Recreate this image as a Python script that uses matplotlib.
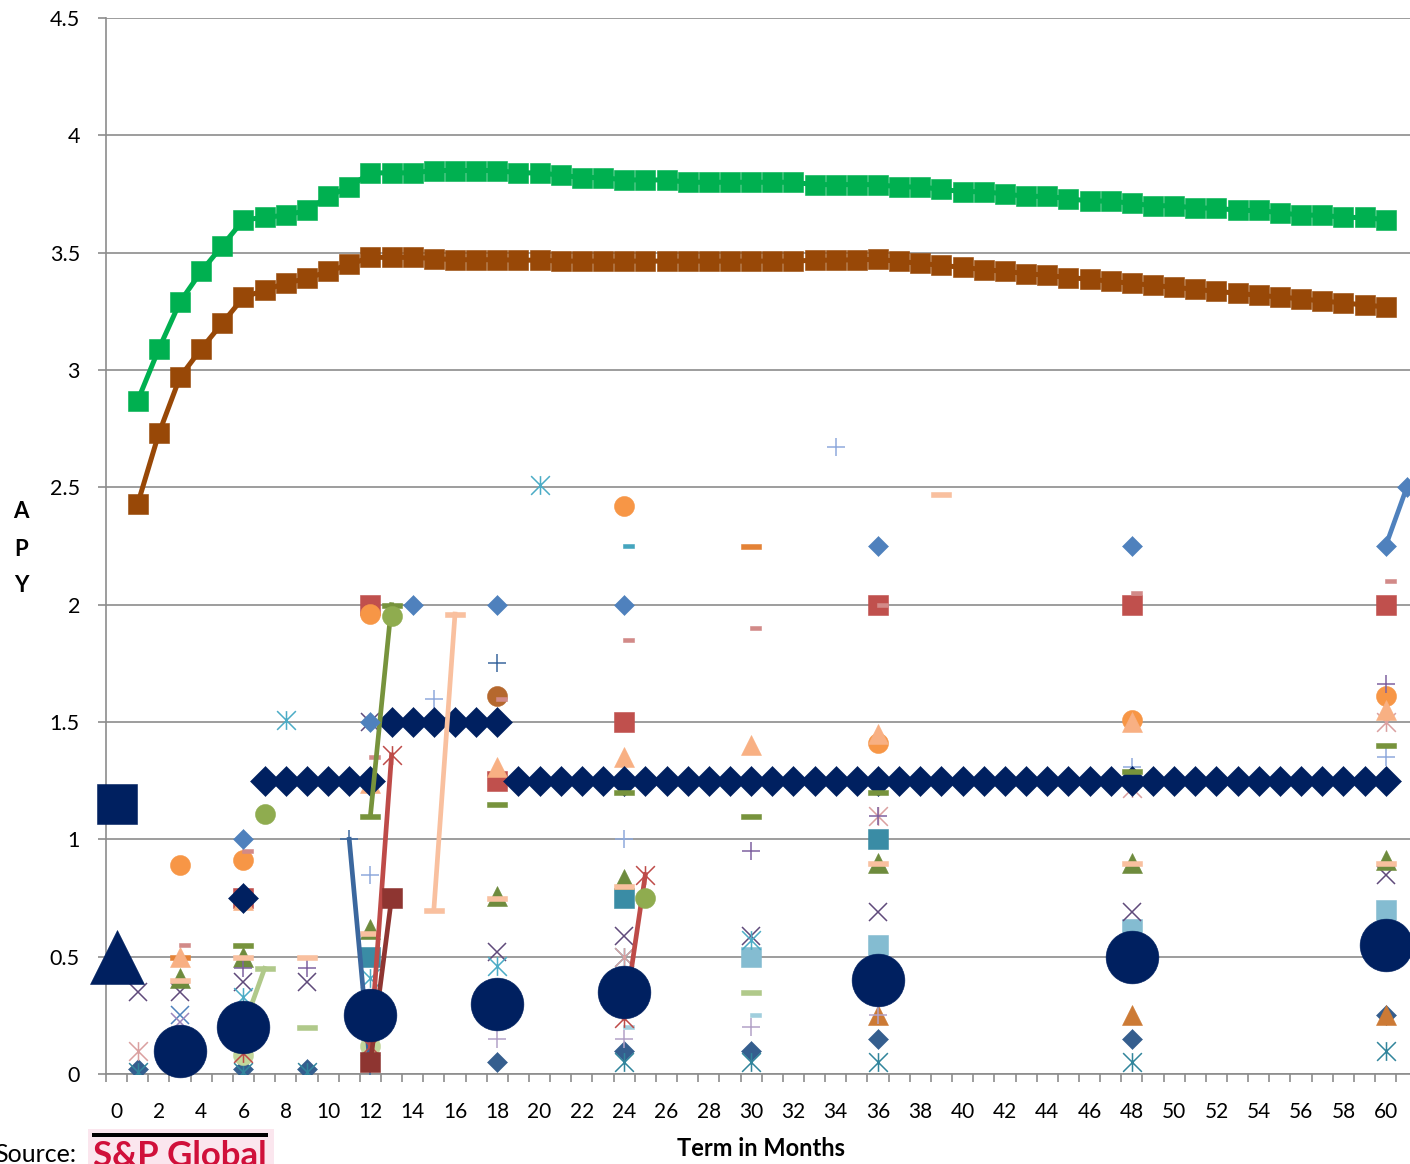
import numpy as np
import matplotlib.pyplot as plt
from matplotlib.path import Path
from matplotlib.patches import Rectangle

plt.rcParams['font.family'] = ['Lato', 'DejaVu Sans']

# ---- data: APY by term in months ----
term = np.arange(62)

green_x = list(range(1, 61))
green_y = [2.87, 3.09, 3.29, 3.42, 3.53, 3.64, 3.65, 3.66, 3.68, 3.74,
           3.78, 3.84, 3.84, 3.84, 3.85, 3.85, 3.85, 3.85, 3.84, 3.84,
           3.83, 3.82, 3.82, 3.81, 3.81, 3.81, 3.80, 3.80, 3.80, 3.80,
           3.80, 3.80, 3.79, 3.79, 3.79, 3.79, 3.78, 3.78, 3.77, 3.76,
           3.76, 3.75, 3.74, 3.74, 3.73, 3.72, 3.72, 3.71, 3.70, 3.70,
           3.69, 3.69, 3.68, 3.68, 3.67, 3.66, 3.66, 3.65, 3.65, 3.64]
brown_x = list(range(1, 61))
brown_y = [2.43, 2.73, 2.97, 3.09, 3.20, 3.31, 3.34, 3.37, 3.39, 3.42,
           3.45, 3.48, 3.48, 3.48, 3.475, 3.47, 3.47, 3.47, 3.468, 3.468,
           3.464, 3.464, 3.464, 3.464, 3.464, 3.464, 3.464, 3.464, 3.464, 3.464,
           3.464, 3.464, 3.468, 3.468, 3.47, 3.471, 3.463, 3.454, 3.446, 3.437,
           3.428, 3.420, 3.411, 3.403, 3.394, 3.387, 3.378, 3.369, 3.361, 3.352,
           3.344, 3.335, 3.327, 3.318, 3.311, 3.303, 3.294, 3.286, 3.277, 3.269]

navy_dia_x = [6] + list(range(7, 61))
navy_dia_y = [0.75] + [1.25] * 6 + [1.5] * 6 + [1.25] * 42
navy_circ_x = [3, 6, 12, 18, 24, 36, 48, 60]
navy_circ_y = [0.1, 0.2, 0.25, 0.3, 0.35, 0.4, 0.5, 0.55]
navy_sq_x, navy_sq_y = [0], [1.15]
navy_tri_x, navy_tri_y = [0], [0.5]

steel_dia_x = [6, 12, 14, 18, 24, 36, 48, 60, 61]
steel_dia_y = [1.0, 1.5, 2.0, 2.0, 2.0, 2.25, 2.25, 2.25, 2.5]
dkblue_plus_x = [11, 12, 18]
dkblue_plus_y = [1.0, 0.02, 1.75]
olive_dash_x = [6, 12, 13, 18, 24, 30, 36, 48, 60]
olive_dash_y = [0.55, 1.1, 2.0, 1.15, 1.2, 1.1, 1.2, 1.29, 1.4]
olive_circ_x = [7, 13, 25]
olive_circ_y = [1.11, 1.95, 0.75]
red_star_x = [6, 12, 13, 24, 25]
red_star_y = [0.09, 0.12, 1.36, 0.24, 0.85]
dkred_sq_x = [12, 13]
dkred_sq_y = [0.05, 0.75]
peach_dash_x = [3, 6, 9, 12, 15, 16, 18, 24, 36, 39, 48, 60]
peach_dash_y = [0.4, 0.5, 0.5, 0.6, 0.7, 1.96, 0.75, 0.8, 0.9, 2.47, 0.9, 0.9]
ltgreen_dash_x = [6, 7, 9, 30]
ltgreen_dash_y = [0.2, 0.45, 0.2, 0.35]
ltgreen_circ_x = [6, 12]
ltgreen_circ_y = [0.08, 0.12]
orange_circ_x = [3, 6, 12, 24, 36, 48, 60]
orange_circ_y = [0.89, 0.91, 1.96, 2.42, 1.41, 1.51, 1.61]
brown_circ_x, brown_circ_y = [18], [1.61]
peach_tri_x = [3, 6, 12, 18, 24, 30, 36, 48, 60]
peach_tri_y = [0.5, 0.74, 1.24, 1.31, 1.35, 1.4, 1.45, 1.5, 1.55]
red_sq_x = [6, 12, 18, 24, 36, 48, 60]
red_sq_y = [0.75, 2.0, 1.25, 1.5, 2.0, 2.0, 2.0]
rosy_dash_x = [3, 6, 12, 18, 24, 30, 36, 48, 60]
rosy_dash_y = [0.55, 0.95, 1.35, 1.6, 1.85, 1.9, 2.0, 2.05, 2.1]
teal_dash_x, teal_dash_y = [24], [2.25]
orange_dash_x, orange_dash_y = [3, 30], [0.5, 2.25]
ltblue_dash_x, ltblue_dash_y = [24, 30], [0.2, 0.25]
ltblue_sq_x = [30, 36, 48, 60]
ltblue_sq_y = [0.5, 0.55, 0.62, 0.7]
teal_sq_x = [12, 24, 36]
teal_sq_y = [0.5, 0.75, 1.0]
purple_x_x = [1, 3, 6, 9, 12, 18, 24, 30, 36, 48, 60]
purple_x_y = [0.35, 0.35, 0.39, 0.39, 1.5, 0.52, 0.59, 0.59, 0.69, 0.69, 0.85]
steel_x_x, steel_x_y = [3], [0.25]
ltpurple_x_x, ltpurple_x_y = [3], [0.22]
purple_plus_x = [6, 9, 30, 36, 60]
purple_plus_y = [0.45, 0.45, 0.95, 1.1, 1.66]
ltblue_plus_x = [12, 15, 24, 34, 48, 60]
ltblue_plus_y = [0.85, 1.6, 1.0, 2.67, 1.31, 1.35]
ltpurple_plus_x = [18, 24, 30, 36]
ltpurple_plus_y = [0.15, 0.15, 0.2, 0.25]
cyan_star_x = [6, 8, 12, 18, 20, 24, 30]
cyan_star_y = [0.33, 1.51, 0.41, 0.46, 2.51, 0.5, 0.57]
pink_star_x = [1, 24, 36, 48, 60]
pink_star_y = [0.1, 0.5, 1.1, 1.22, 1.5]
teal_star_x = [1, 3, 6, 9, 24, 30, 36, 48, 60]
teal_star_y = [0.01, 0.0, 0.01, 0.01, 0.05, 0.05, 0.05, 0.05, 0.1]
dkblue_dia_x = [1, 6, 9, 18, 24, 30, 36, 48, 60]
dkblue_dia_y = [0.02, 0.02, 0.02, 0.05, 0.1, 0.1, 0.15, 0.15, 0.25]
olive_tri_x = [3, 6, 12, 18, 24, 36, 48, 60]
olive_tri_y = [0.41, 0.5, 0.62, 0.76, 0.83, 0.9, 0.9, 0.91]
orange_tri_x = [36, 48, 60]
orange_tri_y = [0.25, 0.25, 0.25]

y_labels = ['0', '0.5', '1', '1.5', '2', '2.5', '3', '3.5', '4', '4.5']
x_label_terms = list(range(0, 61, 2))

# ---- markers like the Excel ones ----
star = Path([(-1, -1), (1, 1), (-1, 1), (1, -1), (0, -1), (0, 1)],
            [Path.MOVETO, Path.LINETO] * 3)
wide_dash = Path([(-1, -0.25), (1, -0.25), (1, 0.25), (-1, 0.25), (-1, -0.25)],
                 closed=True)
short_dash = Path([(-0.1, -0.24), (1, -0.24), (1, 0.24), (-0.1, 0.24), (-0.1, -0.24)],
                  closed=True)

W, H = 1410, 1164
grid_c = '#8c8c8c'
fig = plt.figure(figsize=(W / 100, H / 100), dpi=100)
ax = fig.add_axes([106 / W, (H - 1074) / H, 1 - 106 / W, (1074 - 18) / H])


def draw(xs, ys, color, marker, ms, lw=3.4, hollow=False, z=3, clip=True):
    full = np.full(term.size, np.nan)
    full[xs] = ys
    ax.plot(term, full, color=color, lw=lw, marker=marker, ms=ms,
            mfc='none' if hollow else color, mec=color,
            mew=1.1 if hollow else 0.4, zorder=z, clip_on=clip)


# scattered quotes
draw(dkblue_dia_x, dkblue_dia_y, '#355e8e', 'D', 10.2)
draw(teal_star_x, teal_star_y, '#31859c', star, 13.5, hollow=True)
draw(orange_tri_x, orange_tri_y, '#cc7a35', '^', 14.4)
draw(ltpurple_plus_x, ltpurple_plus_y, '#b3a2c7', '+', 13.5, hollow=True)
draw(ltblue_dash_x, ltblue_dash_y, '#a0cedd', short_dash, 14.4)
draw(ltgreen_circ_x, ltgreen_circ_y, '#c3d69b', 'o', 14.4)
draw(ltblue_sq_x, ltblue_sq_y, '#84bcd1', 's', 14.4)
draw(purple_x_x, purple_x_y, '#604a7b', 'x', 13.5, hollow=True)
draw(cyan_star_x, cyan_star_y, '#4bacc6', star, 13.5, hollow=True)
draw(pink_star_x, pink_star_y, '#daa0a0', star, 13.5, hollow=True)
draw(teal_sq_x, teal_sq_y, '#3a8ca5', 's', 14.4)
draw(olive_tri_x, olive_tri_y, '#6e8b3d', '^', 14.4)
draw(red_sq_x, red_sq_y, '#c0504d', 's', 14.4)
draw(orange_dash_x, orange_dash_y, '#e48236', wide_dash, 14.4)
draw(orange_circ_x, orange_circ_y, '#f79646', 'o', 14.4)
draw(brown_circ_x, brown_circ_y, '#b5682e', 'o', 14.4)
draw(peach_tri_x, peach_tri_y, '#f8b083', '^', 14.4)
draw(rosy_dash_x, rosy_dash_y, '#d28a88', short_dash, 14.4)
draw(teal_dash_x, teal_dash_y, '#45a5be', short_dash, 14.4)
draw(steel_x_x, steel_x_y, '#4f81bd', 'x', 13.5, hollow=True)
draw(ltpurple_x_x, ltpurple_x_y, '#9c86bd', 'x', 13.5, hollow=True)
draw(purple_plus_x, purple_plus_y, '#7f62a0', '+', 13.5, hollow=True)
draw(ltblue_plus_x, ltblue_plus_y, '#8faadc', '+', 13.5, hollow=True)

# 1.25 / 1.5 navy row
draw(navy_dia_x, navy_dia_y, '#002060', 'D', 14.8, lw=0, z=4)

# series with a connecting segment between adjacent terms
draw(peach_dash_x, peach_dash_y, '#f9c09f', wide_dash, 14.4, z=5)
draw(olive_dash_x, olive_dash_y, '#77933c', wide_dash, 14.4, z=5)
draw(ltgreen_dash_x, ltgreen_dash_y, '#b0c98a', wide_dash, 14.4, z=5)
draw(dkblue_plus_x, dkblue_plus_y, '#3b679e', '+', 13.5, hollow=True, z=5)
draw(red_star_x, red_star_y, '#be4b48', star, 13.5, hollow=True, z=5)
draw(dkred_sq_x, dkred_sq_y, '#8e3531', 's', 14.4, z=5)
draw(olive_circ_x, olive_circ_y, '#8fac4f', 'o', 14.4, z=5)
draw(steel_dia_x, steel_dia_y, '#4f81bd', 'D', 10.2, z=5)

# large navy markers
draw(navy_circ_x, navy_circ_y, '#002060', 'o', 38, lw=0, z=6, clip=False)
draw(navy_sq_x, navy_sq_y, '#002060', 's', 28.8, lw=0, z=6, clip=False)
draw(navy_tri_x, navy_tri_y, '#002060', '^', 39, lw=0, z=6, clip=False)

# top curves
ax.plot(green_x, green_y, color='#00b050', lw=3.6, marker='s', ms=14,
        mec='#00b050', mew=0.4, zorder=7)
ax.plot(brown_x, brown_y, color='#984807', lw=3.6, marker='s', ms=14,
        mec='#984807', mew=0.4, zorder=7)

# ---- axes styling ----
ax.set_xlim(-0.5, 61.15)
ax.set_ylim(0, 4.5)
ax.set_yticks(np.arange(0, 4.51, 0.5))
ax.set_yticklabels(y_labels)
ax.set_xticks(x_label_terms)
ax.set_xticklabels([str(t) for t in x_label_terms])
ax.set_xticks(np.arange(-0.5, 61, 1), minor=True)
ax.tick_params(axis='x', which='major', length=0, pad=20, labelsize=15)
ax.tick_params(axis='x', which='minor', length=5.8, width=1.2, color=grid_c)
ax.tick_params(axis='y', length=5.8, width=1.2, color=grid_c, pad=13, labelsize=15.5)
ax.grid(axis='y', color=grid_c, lw=1.2)
ax.set_axisbelow(True)
for side in ('top', 'right'):
    ax.spines[side].set_visible(False)
for side in ('left', 'bottom'):
    ax.spines[side].set_color(grid_c)
    ax.spines[side].set_linewidth(1.2)

# ---- labels ----
fig.text(761 / W, 1 - 1148 / H, 'Term in Months', ha='center', va='center',
         fontsize=17, fontweight='bold')
for letter, ypx in zip('APY', (512, 549, 586)):
    fig.text(21 / W, 1 - ypx / H, letter, ha='center', va='center',
             fontsize=16, fontweight='bold')
fig.text(76 / W, 1 - 1154 / H, 'Source:', ha='right', va='center', fontsize=18)

# S&P Global logo (cropped at bottom, as in the source image)
fig.patches.append(Rectangle((88 / W, 0), 186 / W, 35 / H, transform=fig.transFigure,
                             facecolor='#fbe6ee', edgecolor='none'))
fig.patches.append(Rectangle((92 / W, 1 - 1137 / H), 176 / W, 4 / H,
                             transform=fig.transFigure, facecolor='black',
                             edgecolor='none'))
fig.text(180 / W, 1 - 1140 / H, 'S&P Global', ha='center', va='top',
         fontsize=25, fontweight='bold', color='#d0103a')

fig.savefig('out.png', dpi=100)
